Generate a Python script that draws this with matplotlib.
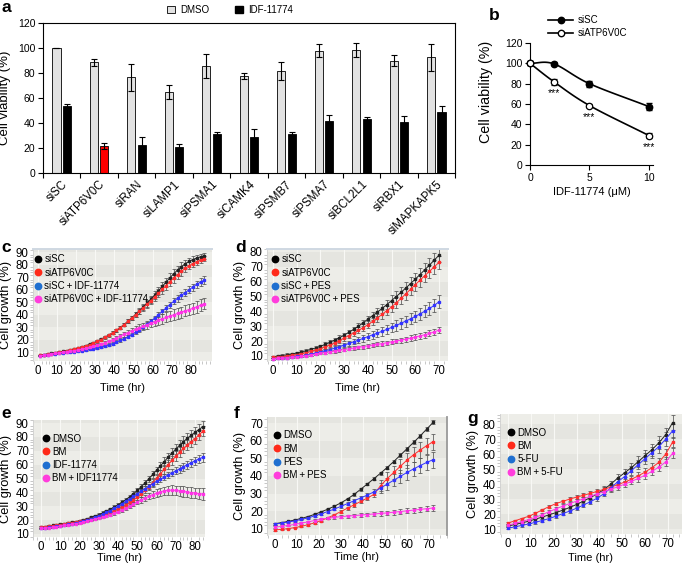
import numpy as np
import matplotlib
matplotlib.use('Agg')
import matplotlib.pyplot as plt
from matplotlib.lines import Line2D
from matplotlib.patches import Patch
from matplotlib.ticker import MultipleLocator

plt.rcParams['font.family'] = ['Liberation Sans', 'DejaVu Sans']

# ---------------- data: panel a ----------------
a_cats = ['siSC', 'siATP6V0C', 'siRAN', 'siLAMP1', 'siPSMA1', 'siCAMK4', 'siPSMB7',
          'siPSMA7', 'siBCL2L1', 'siRBX1', 'siMAPKAPK5']
a_dmso = [100, 88.5, 76.5, 65, 85.5, 77.5, 81.5, 98, 98.5, 90, 92.5]
a_dmso_err = [0, 3, 10.5, 5.5, 9.5, 2.5, 7, 5, 5.5, 4.5, 10.5]
a_idf = [53.5, 21.5, 22.5, 21, 31, 29, 31, 41.5, 43, 41, 49]
a_idf_err = [1.5, 2.5, 6.5, 2, 1.5, 6, 1.5, 5, 1.5, 4.5, 4.5]

# ---------------- data: panel b ----------------
b_dose = [0, 2, 5, 10]
b_sisc = [100, 99.5, 80, 57.5]
b_sisc_err = [2, 1.5, 3, 3]
b_siatp = [100, 82, 58.5, 29]
b_siatp_err = [2, 3, 1.5, 2]
b_sig_dose = [2, 5, 10]

# ---------------- data: panel c ----------------
c_time = np.arange(1, 88, 2)
c_labels = ['siSC', 'siATP6V0C', 'siSC\u2009+\u2009IDF-11774', 'siATP6V0C\u2009+\u2009IDF-11774']
c_k = [7.5, 8.0, 8.5, 9.0, 9.6, 10.1, 10.6, 11.1, 11.7, 12.4, 13.2, 14.1, 15.1, 16.2, 17.4,
       18.8, 20.3, 21.9, 23.6, 25.4, 27.4, 29.6, 32.0, 34.6, 37.3, 40.1, 43.0, 46.0, 49.1, 52.3,
       55.6, 59.0, 62.5, 66.0, 69.4, 72.6, 75.6, 78.3, 80.6, 82.5, 84.0, 85.2, 86.2, 87.0]
c_r = [7.3, 7.8, 8.3, 8.8, 9.3, 9.8, 10.3, 10.8, 11.4, 12.1, 12.9, 13.8, 14.8, 15.9, 17.1,
       18.5, 20.0, 21.7, 23.5, 25.4, 27.4, 29.6, 32.0, 34.5, 37.1, 39.8, 42.5, 45.3, 48.1, 51.0,
       54.0, 57.0, 60.1, 63.2, 66.2, 69.1, 71.9, 74.5, 76.9, 79.0, 80.8, 82.3, 83.6, 84.6]
c_b = [7.0, 7.4, 7.8, 8.2, 8.6, 9.0, 9.4, 9.7, 10.0, 10.4, 10.8, 11.2, 11.6, 12.1, 12.7,
       13.3, 14.0, 14.8, 15.7, 16.8, 18.0, 19.3, 20.7, 22.3, 24.0, 25.9, 27.9, 30.0, 32.3, 34.7,
       37.2, 39.8, 42.5, 45.3, 48.0, 50.6, 53.0, 55.3, 57.6, 59.8, 62.0, 64.1, 66.0, 67.6]
c_m = [7.0, 7.5, 8.0, 8.4, 8.9, 9.3, 9.8, 10.2, 10.7, 11.2, 11.8, 12.4, 13.1, 13.8, 14.6,
       15.5, 16.5, 17.5, 18.7, 20.0, 21.4, 22.8, 24.2, 25.6, 27.0, 28.3, 29.5, 30.7, 31.9, 33.1,
       34.3, 35.5, 36.6, 37.7, 38.8, 39.9, 41.0, 42.0, 43.0, 44.0, 45.0, 46.2, 47.5, 48.8]
c_err_k = [0.4, 0.4, 0.4, 0.4, 0.5, 0.5, 0.5, 0.5, 0.6, 0.6, 0.6, 0.7, 0.7, 0.8, 0.8,
           0.9, 0.9, 1.0, 1.1, 1.2, 1.3, 1.4, 1.5, 1.7, 1.9, 2.1, 2.3, 2.5, 2.7, 2.9,
           3.1, 3.3, 3.5, 3.6, 3.7, 3.7, 3.6, 3.5, 3.3, 3.1, 2.9, 2.7, 2.5, 2.3]
c_err_r = [0.4, 0.4, 0.4, 0.4, 0.5, 0.5, 0.5, 0.5, 0.6, 0.6, 0.6, 0.7, 0.7, 0.8, 0.8,
           0.9, 0.9, 1.0, 1.1, 1.2, 1.3, 1.4, 1.5, 1.6, 1.8, 2.0, 2.2, 2.4, 2.6, 2.8,
           3.0, 3.2, 3.3, 3.4, 3.5, 3.5, 3.4, 3.3, 3.1, 2.9, 2.7, 2.5, 2.3, 2.1]
c_err_b = [0.3, 0.3, 0.3, 0.3, 0.3, 0.4, 0.4, 0.4, 0.4, 0.4, 0.5, 0.5, 0.5, 0.6, 0.6,
           0.7, 0.7, 0.8, 0.8, 0.9, 1.0, 1.1, 1.2, 1.3, 1.4, 1.5, 1.6, 1.7, 1.8, 1.9,
           2.0, 2.1, 2.2, 2.3, 2.4, 2.5, 2.6, 2.6, 2.7, 2.7, 2.8, 2.8, 2.9, 2.9]
c_err_m = [0.3, 0.3, 0.3, 0.3, 0.4, 0.4, 0.4, 0.4, 0.5, 0.5, 0.5, 0.6, 0.6, 0.7, 0.8,
           0.9, 1.0, 1.1, 1.2, 1.3, 1.5, 1.7, 1.9, 2.1, 2.3, 2.5, 2.7, 2.9, 3.1, 3.3,
           3.5, 3.7, 3.9, 4.0, 4.1, 4.2, 4.3, 4.4, 4.5, 4.5, 4.6, 4.6, 4.7, 4.7]

# ---------------- data: panel d ----------------
d_time = np.arange(0, 71, 2)
d_labels = ['siSC', 'siATP6V0C', 'siSC\u2009+\u2009PES', 'siATP6V0C\u2009+\u2009PES']
d_k = [9.5, 9.9, 10.3, 10.8, 11.3, 12.0, 12.7, 13.5, 14.4, 15.4,
       16.5, 17.8, 19.2, 20.7, 22.3, 24.0, 25.9, 27.9, 30.0, 32.3, 34.7, 37.1, 39.5,
       42.0, 44.6, 47.3, 50.0, 52.8, 55.7, 58.7, 61.7, 64.8, 68.0, 71.2, 74.5, 77.8]
d_r = [9.0, 9.3, 9.6, 10.0, 10.4, 10.9, 11.5, 12.2, 13.0, 14.0,
       15.0, 16.1, 17.3, 18.6, 20.2, 22.0, 23.7, 25.4, 27.2, 29.0, 31.0, 33.2, 35.5,
       38.0, 40.5, 43.0, 45.8, 48.7, 51.8, 54.9, 58.0, 61.0, 64.0, 67.0, 70.0, 73.0]
d_b = [8.0, 8.3, 8.6, 8.9, 9.3, 9.7, 10.1, 10.6, 11.2, 11.8,
       12.8, 13.5, 14.3, 15.2, 16.2, 17.3, 18.4, 19.5, 20.6, 21.8, 23.0, 24.2, 25.4,
       26.6, 27.9, 29.2, 30.6, 32.0, 33.5, 35.0, 36.6, 38.3, 40.1, 42.0, 44.0, 46.5]
d_m = [8.0, 8.3, 8.6, 8.9, 9.2, 9.5, 9.9, 10.3, 10.8, 11.3,
       11.8, 12.3, 12.8, 13.3, 13.8, 14.3, 14.8, 15.3, 15.8, 16.3, 16.8, 17.3, 17.8,
       18.3, 18.9, 19.5, 20.1, 20.7, 21.3, 22.0, 22.7, 23.5, 24.3, 25.2, 26.2, 27.4]
d_err_k = [0.8, 0.8, 0.8, 0.9, 0.9, 0.9, 1.0, 1.0, 1.1, 1.1, 1.2, 1.3, 1.4, 1.5, 1.6, 1.7,
           1.8, 1.9, 2.0, 2.2, 2.4, 2.6, 2.8, 3.0, 3.2, 3.4, 3.6, 3.8, 4.0, 4.2, 4.3, 4.4,
           4.5, 4.6, 4.6, 4.7]
d_err_r = [0.7, 0.7, 0.7, 0.8, 0.8, 0.8, 0.9, 0.9, 1.0, 1.0, 1.1, 1.2, 1.3, 1.4, 1.5, 1.6,
           1.7, 1.8, 2.0, 2.2, 2.4, 2.6, 2.8, 3.0, 3.2, 3.4, 3.6, 3.8, 4.0, 4.1, 4.2, 4.3,
           4.4, 4.5, 4.5, 4.6]
d_err_b = [0.6, 0.6, 0.6, 0.7, 0.7, 0.7, 0.8, 0.8, 0.9, 0.9, 1.0, 1.1, 1.2, 1.3, 1.4, 1.5,
           1.6, 1.7, 1.9, 2.1, 2.3, 2.5, 2.7, 2.9, 3.1, 3.3, 3.5, 3.6, 3.7, 3.8, 3.9, 4.0,
           4.1, 4.2, 4.3, 4.4]
d_err_m = [0.6, 0.6, 0.6, 0.6, 0.7, 0.7, 0.7, 0.7, 0.8, 0.8, 0.8, 0.9, 0.9, 1.0, 1.0, 1.1,
           1.1, 1.2, 1.2, 1.3, 1.3, 1.4, 1.4, 1.5, 1.5, 1.6, 1.6, 1.7, 1.7, 1.8, 1.8, 1.9,
           1.9, 2.0, 2.0, 2.1]

# ---------------- data: panel e ----------------
e_time = np.arange(0, 85, 2)
e_labels = ['DMSO', 'BM', 'IDF-11774', 'BM\u2009+\u2009IDF11774']
e_k = [15.0, 15.3, 15.7, 16.1, 16.5, 17.0, 17.4, 17.9, 18.4, 18.9,
       19.5, 20.2, 21.0, 21.9, 22.9, 24.0, 25.2, 26.5, 27.9, 29.4,
       31.0, 32.8, 34.7, 36.8, 39.0, 41.4, 44.0, 46.8, 49.8, 52.9,
       56.0, 59.1, 62.2, 65.3, 68.3, 71.2, 74.0, 76.6, 79.0, 81.2, 83.3, 85.3, 87.3]
e_r = [15.0, 15.3, 15.6, 16.0, 16.4, 16.8, 17.2, 17.7, 18.2, 18.7,
       19.2, 19.7, 20.3, 21.0, 21.8, 22.6, 23.5, 24.5, 25.6, 26.8,
       28.1, 29.5, 31.0, 32.7, 34.5, 36.6, 38.9, 41.4, 44.1, 47.0,
       50.1, 53.3, 56.6, 59.9, 63.1, 66.2, 69.1, 71.8, 74.3, 76.6, 78.8, 81.3, 84.0]
e_b = [14.0, 14.3, 14.7, 15.1, 15.5, 16.0, 16.4, 16.9, 17.4, 17.9,
       18.5, 19.2, 20.0, 20.9, 21.9, 23.0, 24.2, 25.5, 26.9, 28.4,
       30.0, 31.7, 33.5, 35.3, 37.2, 39.0, 40.8, 42.6, 44.4, 46.2,
       48.0, 49.5, 51.0, 52.5, 54.0, 55.5, 57.0, 58.5, 60.0, 61.4, 62.8, 64.1, 65.3]
e_m = [14.0, 14.3, 14.6, 14.9, 15.3, 15.7, 16.1, 16.5, 17.0, 17.5,
       18.0, 18.6, 19.2, 19.9, 20.7, 21.5, 22.3, 23.1, 24.0, 25.0,
       26.1, 27.3, 28.6, 30.0, 31.5, 33.0, 34.5, 35.9, 37.2, 38.4,
       39.5, 40.4, 41.1, 41.5, 41.6, 41.4, 41.1, 40.7, 40.3, 39.9, 39.5, 39.1, 38.8]
e_err_k = [0.5, 0.5, 0.5, 0.5, 0.5, 0.6, 0.6, 0.6, 0.6, 0.7, 0.7, 0.7, 0.8, 0.8, 0.9,
           0.9, 1.0, 1.0, 1.1, 1.2, 1.3, 1.4, 1.5, 1.6, 1.7, 1.8, 1.9, 2.0, 2.2, 2.4,
           2.6, 2.8, 3.0, 3.2, 3.4, 3.5, 3.6, 3.7, 3.8, 3.8, 3.9, 3.9, 4.0]
e_err_r = [0.5, 0.5, 0.5, 0.5, 0.5, 0.6, 0.6, 0.6, 0.6, 0.7, 0.7, 0.7, 0.8, 0.8, 0.9,
           0.9, 1.0, 1.0, 1.1, 1.2, 1.3, 1.4, 1.5, 1.6, 1.7, 1.8, 1.9, 2.0, 2.2, 2.4,
           2.6, 2.8, 3.0, 3.1, 3.2, 3.3, 3.4, 3.5, 3.5, 3.6, 3.6, 3.7, 3.7]
e_err_b = [0.4, 0.4, 0.4, 0.4, 0.5, 0.5, 0.5, 0.5, 0.5, 0.6, 0.6, 0.6, 0.7, 0.7, 0.8,
           0.8, 0.9, 0.9, 1.0, 1.0, 1.1, 1.2, 1.3, 1.4, 1.5, 1.6, 1.7, 1.8, 1.9, 2.0,
           2.1, 2.2, 2.3, 2.4, 2.5, 2.6, 2.7, 2.8, 2.9, 3.0, 3.0, 3.1, 3.1]
e_err_m = [0.4, 0.4, 0.4, 0.4, 0.5, 0.5, 0.5, 0.5, 0.5, 0.6, 0.6, 0.6, 0.7, 0.7, 0.8,
           0.8, 0.9, 0.9, 1.0, 1.0, 1.1, 1.2, 1.3, 1.4, 1.5, 1.7, 1.9, 2.1, 2.3, 2.5,
           2.7, 2.9, 3.1, 3.3, 3.4, 3.5, 3.6, 3.7, 3.8, 3.8, 3.9, 3.9, 4.0]

# ---------------- data: panel f ----------------
f_time = np.arange(0, 73, 3)
f_labels = ['DMSO', 'BM', 'PES', 'BM\u2009+\u2009PES']
f_k = [13.0, 13.6, 14.3, 15.1, 16.0, 17.0, 18.3, 19.7, 21.2, 22.9, 24.8, 27.0, 29.6,
       32.5, 35.5, 38.5, 41.6, 44.8, 48.2, 51.8, 55.4, 59.0, 62.7, 66.6, 70.5]
f_r = [9.5, 9.8, 10.2, 10.8, 11.5, 12.4, 13.5, 14.8, 16.3, 18.0, 19.9, 21.8, 23.7,
       25.6, 27.5, 29.6, 34.5, 38.5, 42.0, 45.5, 49.0, 52.0, 54.7, 57.2, 59.5]
f_b = [12.8, 13.3, 13.9, 14.6, 15.4, 16.3, 17.4, 18.6, 19.9, 21.3, 22.8, 24.4, 26.0,
       27.6, 29.2, 31.0, 33.2, 35.4, 37.6, 39.8, 42.0, 44.0, 45.9, 47.7, 49.3]
f_m = [11.0, 11.5, 12.0, 12.6, 13.3, 14.0, 14.8, 15.5, 16.1, 16.6, 17.0, 17.3, 17.6,
       17.9, 18.2, 18.5, 18.8, 19.1, 19.5, 19.9, 20.3, 20.7, 21.1, 21.5, 21.9]
f_err_k = [0.5, 0.5, 0.5, 0.5, 0.5, 0.6, 0.6, 0.6, 0.6, 0.7, 0.7, 0.7, 0.8, 0.8, 0.8,
           0.9, 0.9, 0.9, 1.0, 1.0, 1.0, 1.1, 1.1, 1.2, 1.2]
f_err_r = [0.4, 0.4, 0.4, 0.5, 0.5, 0.5, 0.6, 0.6, 0.7, 0.7, 0.8, 0.9, 1.0, 1.1, 1.3,
           1.5, 3.0, 3.5, 3.8, 4.0, 4.2, 4.3, 4.4, 4.5, 4.5]
f_err_b = [0.4, 0.4, 0.4, 0.5, 0.5, 0.5, 0.6, 0.6, 0.7, 0.7, 0.8, 0.9, 1.0, 1.1, 1.3,
           1.5, 2.8, 3.2, 3.5, 3.8, 4.0, 4.2, 4.3, 4.4, 4.5]
f_err_m = [0.5, 0.5, 0.5, 0.6, 0.6, 0.6, 0.7, 0.7, 0.7, 0.8, 0.8, 0.9, 0.9, 1.0, 1.0,
           1.1, 1.2, 1.2, 1.3, 1.3, 1.4, 1.4, 1.5, 1.5, 1.6]

# ---------------- data: panel g ----------------
g_time = np.arange(0, 73, 3)
g_labels = ['DMSO', 'BM', '5-FU', 'BM\u2009+\u20095-FU']
g_k = [12.0, 13.0, 14.1, 15.2, 16.6, 18.0, 19.5, 21.0, 22.6, 24.4, 26.4, 28.6, 31.0,
       33.4, 36.4, 40.0, 44.0, 47.5, 51.0, 55.0, 59.0, 63.0, 67.5, 73.0, 81.0]
g_r = [14.0, 15.5, 17.0, 18.5, 20.5, 22.8, 25.0, 27.0, 28.5, 30.0, 31.3, 32.5, 33.8,
       35.1, 36.5, 38.0, 39.6, 41.3, 43.2, 45.5, 48.0, 51.0, 54.5, 60.0, 68.0]
g_b = [10.5, 11.5, 12.4, 13.4, 14.5, 15.7, 17.0, 18.6, 20.3, 22.0, 23.9, 26.0, 28.2,
       30.6, 33.6, 37.5, 41.5, 45.0, 49.0, 53.0, 57.0, 61.0, 65.0, 70.0, 75.5]
g_m = [12.5, 13.8, 15.0, 16.3, 17.8, 19.6, 21.6, 23.5, 25.3, 27.0, 28.6, 30.2, 31.8,
       33.4, 35.0, 36.6, 38.2, 39.9, 41.8, 43.8, 46.0, 48.5, 51.3, 54.8, 60.5]
g_err_k = [0.8, 0.8, 0.9, 0.9, 1.0, 1.0, 1.1, 1.2, 1.3, 1.4, 1.5, 1.6, 1.7, 1.8, 2.0,
           2.2, 2.5, 2.8, 3.1, 3.4, 3.7, 4.0, 4.3, 4.6, 4.8]
g_err_r = [0.6, 0.6, 0.7, 0.7, 0.8, 0.8, 0.9, 1.0, 1.1, 1.2, 1.3, 1.4, 1.5, 1.6, 1.7,
           1.8, 1.9, 2.0, 2.1, 2.3, 2.5, 2.7, 2.9, 3.1, 3.3]
g_err_b = [0.6, 0.6, 0.7, 0.7, 0.8, 0.8, 0.9, 1.0, 1.1, 1.2, 1.3, 1.4, 1.5, 1.7, 1.9,
           2.1, 2.4, 2.7, 3.0, 3.3, 3.6, 3.9, 4.2, 4.5, 4.7]
g_err_m = [0.6, 0.6, 0.7, 0.7, 0.8, 0.8, 0.9, 1.0, 1.1, 1.2, 1.3, 1.4, 1.5, 1.6, 1.7,
           1.8, 1.9, 2.0, 2.1, 2.3, 2.5, 2.7, 2.9, 3.1, 3.3]

# ---------------- figure ----------------
W, H = 685, 565
fig = plt.figure(figsize=(W / 100, H / 100), dpi=100)
fig.patch.set_facecolor('white')


def ax_px(l, t, r, b):
    return fig.add_axes([l / W, 1 - b / H, (r - l) / W, (b - t) / H])


def letter(x, y, s):
    fig.text(x / W, 1 - y / H, s, fontsize=12.5, fontweight='bold', ha='center', va='center')


# ---- panel a ----
ax = ax_px(43, 23, 455, 173)
x = np.arange(len(a_cats))
bw = 0.215
off = 0.14
idf_cols = ['black'] * len(a_cats)
idf_cols[1] = '#ff0000'
ekw = dict(elinewidth=0.8, capsize=2.4, capthick=0.8, ecolor='black')
ax.bar(x - off, a_dmso, bw, color='#e2e2e2', edgecolor='black', linewidth=0.6,
       yerr=a_dmso_err, error_kw=ekw, zorder=2)
ax.bar(x + off, a_idf, bw, color=idf_cols, edgecolor='black', linewidth=0.6,
       yerr=a_idf_err, error_kw=ekw, zorder=2)
ax.set_xlim(-0.5, len(a_cats) - 0.5)
ax.set_ylim(0, 120)
ax.set_yticks(range(0, 121, 20))
ax.set_xticks(x)
ax.set_xticklabels(a_cats, rotation=45, ha='right', rotation_mode='anchor', fontsize=8.3)
ax.set_xticks(np.arange(-0.5, len(a_cats), 1), minor=True)
ax.tick_params(axis='x', which='major', length=0, pad=4)
ax.tick_params(axis='x', which='minor', length=3.5, width=0.8, direction='out')
ax.tick_params(axis='y', length=3.5, width=0.8, direction='out', labelsize=7.5, pad=2)
for s in ax.spines.values():
    s.set_linewidth(0.8)
ax.set_ylabel('Cell viability (%)', fontsize=9.5, labelpad=5)
fig.legend(handles=[Patch(facecolor='#e2e2e2', edgecolor='black', linewidth=0.6, label='DMSO'),
                    Patch(facecolor='black', edgecolor='black', label='IDF-11774')],
           loc='center', bbox_to_anchor=(230 / W, 1 - 10 / H), ncol=2, frameon=False,
           fontsize=7, handlelength=0.8, handleheight=0.8, columnspacing=2.6, handletextpad=0.6)
letter(6, 8, 'a')

# ---- panel b ----
axb = ax_px(530, 43, 653, 165)


def smooth(xs, ys, n=40):
    xs = np.asarray(xs, float)
    ys = np.asarray(ys, float)
    P = np.column_stack([xs, ys])
    P = np.vstack([2 * P[0] - P[1], P, 2 * P[-1] - P[-2]])
    out = []
    for i in range(1, len(P) - 2):
        p0, p1, p2, p3 = P[i - 1], P[i], P[i + 1], P[i + 2]
        tt = np.linspace(0, 1, n)[:, None]
        seg = 0.5 * ((2 * p1) + (-p0 + p2) * tt + (2 * p0 - 5 * p1 + 4 * p2 - p3) * tt ** 2
                     + (-p0 + 3 * p1 - 3 * p2 + p3) * tt ** 3)
        out.append(seg)
    out = np.vstack(out)
    return out[:, 0], out[:, 1]


sx, sy = smooth(b_dose, b_sisc)
axb.plot(sx, sy, color='black', lw=1.2, zorder=2, clip_on=False)
sx, sy = smooth(b_dose, b_siatp)
axb.plot(sx, sy, color='black', lw=1.2, zorder=2, clip_on=False)
axb.errorbar(b_dose, b_sisc, yerr=b_sisc_err, fmt='o', ms=4.6, mfc='black', mec='black',
             ecolor='black', elinewidth=0.8, capsize=2, zorder=3, clip_on=False)
axb.errorbar(b_dose, b_siatp, yerr=b_siatp_err, fmt='o', ms=4.6, mfc='white', mec='black',
             mew=0.9, ecolor='black', elinewidth=0.8, capsize=2, zorder=4, clip_on=False)
for d in b_sig_dose:
    i = b_dose.index(d)
    axb.annotate('***', (d, b_siatp[i]), xytext=(0, -4.5), textcoords='offset points',
                 ha='center', va='top', fontsize=7.5)
axb.set_xlim(0, 10.35)
axb.set_ylim(0, 120)
axb.set_xticks([0, 5, 10])
axb.set_yticks(range(0, 121, 20))
axb.spines['top'].set_visible(False)
axb.spines['right'].set_visible(False)
for s in ('left', 'bottom'):
    axb.spines[s].set_linewidth(0.8)
axb.tick_params(length=3.5, width=0.8, direction='out', labelsize=7.5, pad=2)
axb.set_xlabel('IDF-11774 (\u03bcM)', fontsize=8, labelpad=3)
axb.set_ylabel('Cell viability (%)', fontsize=10.3)
axb.yaxis.set_label_coords(-0.30, 0.6)
fig.legend(handles=[Line2D([], [], color='black', lw=1.2, marker='o', ms=4.6, mfc='black'),
                    Line2D([], [], color='black', lw=1.2, marker='o', ms=4.6, mfc='white')],
           labels=['siSC', 'siATP6V0C'], loc='upper left',
           bbox_to_anchor=(548 / W, 1 - 15 / H), frameon=False, fontsize=7,
           handlelength=2.6, handletextpad=0.5, labelspacing=0.35, borderaxespad=0,
           borderpad=0)
letter(494, 15, 'b')

# ---- growth panels ----
LINE_COLS = ['#222222', '#ff2d2d', '#3333ff', '#ff33e6']
LEG_COLS = ['black', '#ff2a1a', '#1f6fd0', '#ff3ddc']


def growth(box, t, series, errs, labels, xlim, ylim, ytick_max, xtick_max, minor_x,
           leg_dx, leg_dy, xlab_pad, top_col=None, right_col=None):
    l, tp, r, b = box
    ax = ax_px(*box)
    ax.set_facecolor('#ededE8')
    for y0 in range(0, 100, 10):
        if (y0 // 10) % 2 == 1:
            ax.axhspan(y0, y0 + 10, color='#e5e5e0', zorder=0, lw=0)
    for xv in range(0, xtick_max + 1, 10):
        ax.axvline(xv, color='#f8f8f5', lw=0.8, zorder=0.5)
    for yv, e, c in zip(series, errs, LINE_COLS):
        ax.errorbar(t, yv, yerr=e, fmt='none', ecolor='#555555', elinewidth=0.55,
                    capsize=1.1, capthick=0.55, zorder=2)
        ax.plot(t, yv, color=c, lw=0.7, marker='s', ms=1.8, mec=c, mfc=c, zorder=3)
    ax.set_xlim(*xlim)
    ax.set_ylim(*ylim)
    ax.set_xticks(range(0, xtick_max + 1, 10))
    ax.set_yticks(range(10, ytick_max + 1, 10))
    ax.xaxis.set_minor_locator(MultipleLocator(minor_x))
    ax.yaxis.set_minor_locator(MultipleLocator(2))
    ax.tick_params(which='major', length=0, labelsize=8.3, pad=3)
    ax.tick_params(which='minor', length=2, width=0.5, color='#b0b0b0', direction='out')
    for s in ax.spines.values():
        s.set_visible(False)
    ax.spines['left'].set_visible(True)
    ax.spines['left'].set_color('#d0d0d0')
    ax.spines['left'].set_linewidth(0.6)
    if top_col:
        ax.spines['top'].set_visible(True)
        ax.spines['top'].set_color(top_col)
        ax.spines['top'].set_linewidth(1.4)
    if right_col:
        ax.spines['right'].set_visible(True)
        ax.spines['right'].set_color(right_col)
        ax.spines['right'].set_linewidth(1.3)
    handles = [Line2D([], [], ls='none', marker='o', ms=4.6, mfc=c, mec=c) for c in LEG_COLS]
    ax.legend(handles, labels, loc='upper left',
              bbox_to_anchor=(leg_dx / (r - l), 1 - leg_dy / (b - tp)),
              frameon=False, fontsize=7, handlelength=0.6, handletextpad=0.35,
              labelspacing=0.33, borderaxespad=0, borderpad=0)
    ax.set_xlabel('Time (hr)', fontsize=8, labelpad=xlab_pad)
    ax.set_ylabel('Cell growth (%)', fontsize=9.3, labelpad=3)
    return ax


growth((33, 249, 212, 361), c_time, [c_k, c_r, c_b, c_m],
       [c_err_k, c_err_r, c_err_b, c_err_m], c_labels,
       (-2.6, 91), (2.9, 92.4), 90, 80, 2, 2, 5.5, 4.5, top_col='#cfd8e2')
letter(6, 248, 'c')

growth((267, 249, 448, 361), d_time, [d_k, d_r, d_b, d_m],
       [d_err_k, d_err_r, d_err_b, d_err_m], d_labels,
       (-2.5, 73.8), (6.6, 82), 80, 70, 2, 5, 5.5, 4.5, top_col='#cfd8e2')
letter(241, 248, 'd')

growth((33, 420, 205, 537), e_time, [e_k, e_r, e_b, e_m],
       [e_err_k, e_err_r, e_err_b, e_err_m], e_labels,
       (-4.2, 85.2), (7.8, 92.2), 90, 80, 2, 10, 13.5, 0)
letter(6, 413, 'e')

growth((267, 417, 447, 535), f_time, [f_k, f_r, f_b, f_m],
       [f_err_k, f_err_r, f_err_b, f_err_m], f_labels,
       (-3.6, 78.2), (6.6, 73.4), 70, 70, 3, 7, 13.5, 0.5, right_col='#999999')
letter(237, 413, 'f')

growth((500, 414, 682, 534), g_time, [g_k, g_r, g_b, g_m],
       [g_err_k, g_err_r, g_err_b, g_err_m], g_labels,
       (-3.5, 76.1), (6.7, 86.7), 80, 70, 3, 8, 13.5, 2)
letter(473, 418, 'g')

fig.savefig('out.png', dpi=100, facecolor='white')
